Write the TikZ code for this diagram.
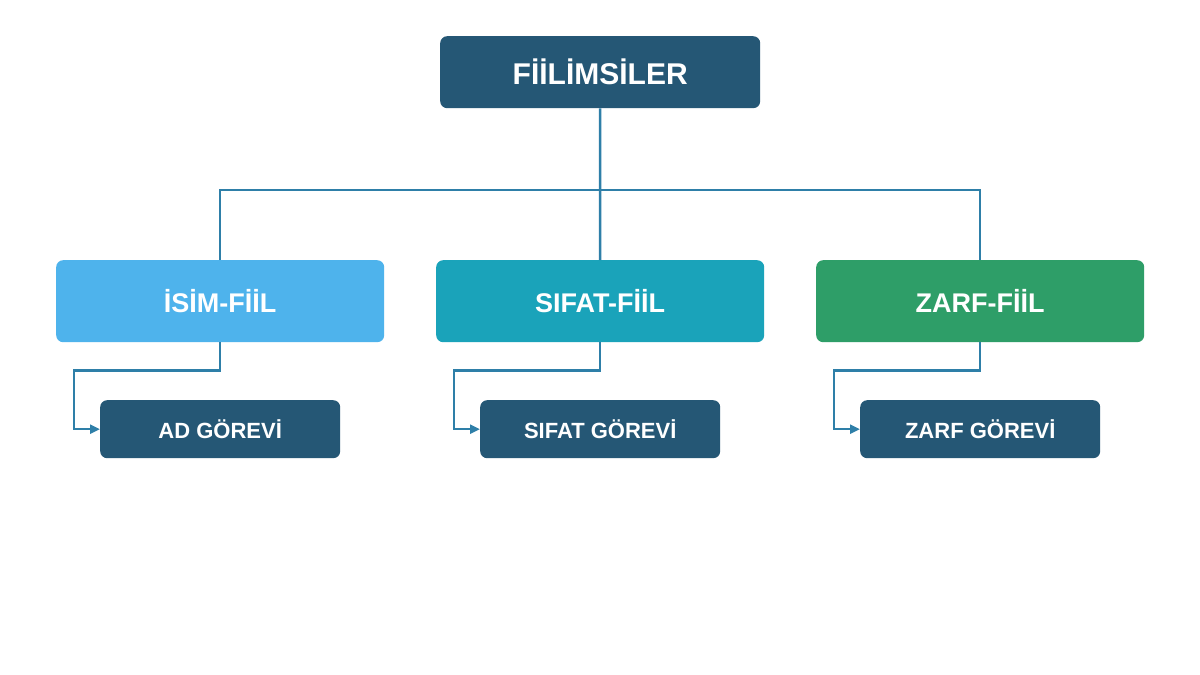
\documentclass[tikz,border=0pt]{standalone}
\usepackage{fontspec}
\setmainfont{Liberation Sans}
\usetikzlibrary{arrows.meta}
\definecolor{dark}{HTML}{255775}
\definecolor{c1}{HTML}{4EB3EC}
\definecolor{c2}{HTML}{1AA3BA}
\definecolor{c3}{HTML}{2E9E68}
\definecolor{ln}{HTML}{2E7FA8}
\begin{document}
\begin{tikzpicture}[x=1pt,y=-1pt,
 box/.style={rounded corners=7pt,text=white,font=\bfseries,inner sep=0pt,anchor=north west},
 con/.style={draw=ln,line width=2.5pt},
 arr/.style={con,-{Triangle[length=10pt,width=9pt]}}]
\useasboundingbox[fill=white] (0,0) rectangle (1200,675);
\node[box,fill=dark,minimum width=320pt,minimum height=72pt,font=\bfseries\fontsize{30}{36}\selectfont] (top) at (440,36) {FİİLİMSİLER};
\foreach \n/\x/\c/\t/\b in {a/56/c1/İSİM-FİİL/AD GÖREVİ,b/436/c2/SIFAT-FİİL/SIFAT GÖREVİ,c/816/c3/ZARF-FİİL/ZARF GÖREVİ}{
 \node[box,fill=\c,minimum width=328pt,minimum height=82pt,font=\bfseries\fontsize{27}{32}\selectfont] (\n) at (\x,260) {\t};
 \node[box,fill=dark,minimum width=240pt,minimum height=58pt,font=\bfseries\fontsize{22}{26}\selectfont] (\n2) at (\x+44,400) {\b};
 \draw[arr] (\n.south) |- ++(0,28) -| ([xshift=-26pt]\n2.west) -- (\n2.west);
}
\coordinate (j) at (600,190);
\draw[con] (top.south) -- (j);
\draw[con] (a.north) |- (j) -| (c.north);
\draw[con] (j) -- (b.north);
\end{tikzpicture}
\end{document}
